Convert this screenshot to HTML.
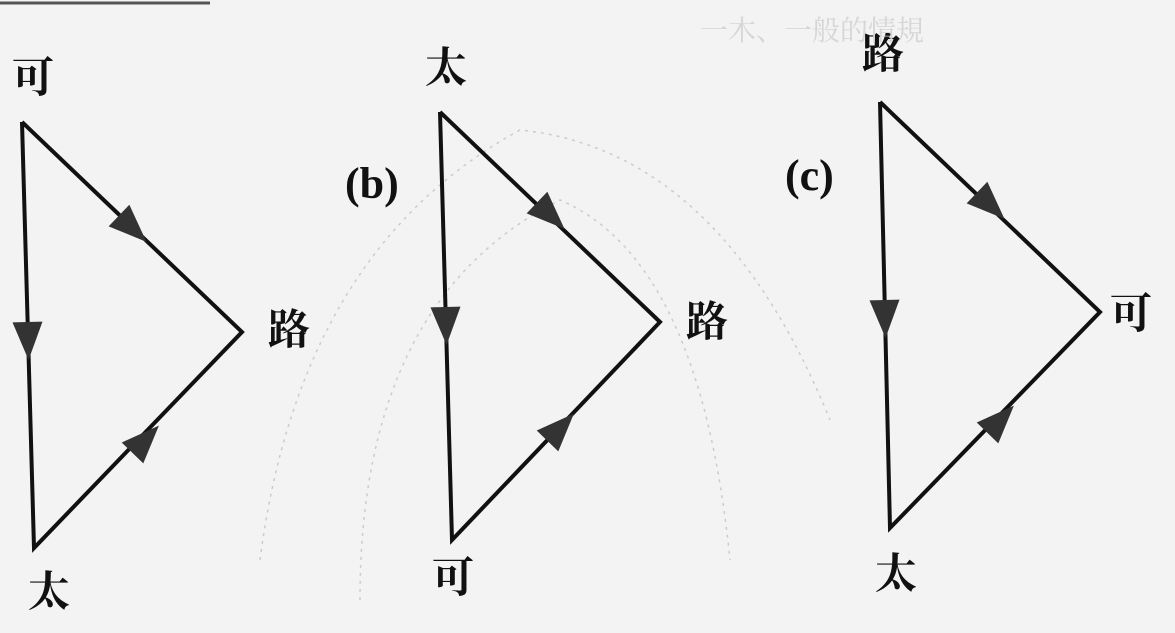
<!DOCTYPE html>
<html><head><meta charset="utf-8"><style>
html,body{margin:0;padding:0;background:#f3f3f3;}
svg{display:block}
text{font-family:"Liberation Serif","Noto Serif CJK SC",serif;fill:#111;}
</style></head><body>
<svg width="1175" height="633" viewBox="0 0 1175 633" xmlns="http://www.w3.org/2000/svg">
<rect width="1175" height="633" fill="#f3f3f3"/>
<line x1="0" y1="3" x2="210" y2="3" stroke="#555" stroke-width="3"/>
<g fill="none" stroke="#ccc" stroke-width="1.5" stroke-dasharray="3 5">
<path d="M260 560 Q300 250 520 130 Q720 150 830 420"/>
<path d="M360 600 Q360 300 560 200 Q700 260 730 560"/>
</g>
<defs>
<polygon id="ar" points="-18,-15 20,0 -18,15" fill="#333"/>
</defs>
<g stroke="#111" stroke-width="4" fill="none" stroke-linejoin="miter">
<polyline points="22,122 242,332 34,548 22,122"/>
<polyline points="440,112 660,322 452,540 440,112"/>
<polyline points="880,102 1100,312 890,528 880,102"/>
</g>
<use href="#ar" transform="translate(132,228) rotate(43.7)"/>
<use href="#ar" transform="translate(28,340) rotate(88.4)"/>
<use href="#ar" transform="translate(145,440) rotate(-46)"/>
<use href="#ar" transform="translate(550,215) rotate(43.7)"/>
<use href="#ar" transform="translate(446,325) rotate(88.4)"/>
<use href="#ar" transform="translate(560,428) rotate(-46)"/>
<use href="#ar" transform="translate(990,205) rotate(43.7)"/>
<use href="#ar" transform="translate(885,318) rotate(88.4)"/>
<use href="#ar" transform="translate(1000,420) rotate(-46)"/>
<g font-size="42" font-weight="bold">
<text x="12" y="92">可</text>
<text x="268" y="344">路</text>
<text x="28" y="606">太</text>
<text x="425" y="82">太</text>
<text x="686" y="336">路</text>
<text x="432" y="592">可</text>
<text x="862" y="68">路</text>
<text x="1110" y="328">可</text>
<text x="875" y="588">太</text>
</g>
<text x="345" y="198" font-size="44" font-weight="bold">(b)</text>
<text x="785" y="190" font-size="44" font-weight="bold">(c)</text>
<text x="700" y="40" font-size="28" style="fill:#d6d6d6">一木、一般的情規</text>
</svg>
</body></html>
